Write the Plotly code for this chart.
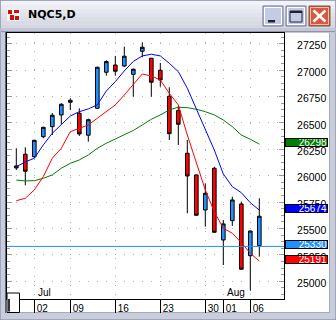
import plotly.graph_objects as go

# ---------------- data ----------------
bar_idx = list(range(28))
opens  = [26073, 26203, 26180, 26369, 26464, 26575, 26695, 26591, 26383, 26638,
          26979, 27048, 27039, 26960, 27178, 27112, 26998, 26752, 26616, 26212,
          26007, 25675, 26070, 25391, 25574, 25732, 25242, 25337]
highs  = [26259, 26269, 26340, 26462, 26594, 26686, 26733, 26638, 26540, 27030,
          27093, 27134, 27222, 27015, 27263, 27115, 27067, 26837, 26660, 26338,
          26010, 25928, 26085, 25580, 25801, 25754, 25480, 25786]
lows   = [26054, 25909, 26165, 26354, 26385, 26490, 26622, 26376, 26322, 26635,
          26947, 26947, 27029, 26748, 27121, 26748, 26843, 26338, 26291, 25644,
          25620, 25517, 25460, 25154, 25524, 25110, 24911, 25233]
closes = [26092, 26042, 26335, 26458, 26572, 26676, 26714, 26395, 26530, 27027,
          27080, 26989, 27131, 27008, 27216, 26885, 26906, 26398, 26487, 25997,
          25625, 25833, 25464, 25543, 25770, 25114, 25476, 25616]

ma_blue  = [26085, 26130, 26165, 26291, 26402, 26487, 26565, 26606, 26632, 26670,
            26802, 26890, 26992, 27082, 27134, 27150, 27134, 27064, 26985, 26828,
            26638, 26433, 26243, 26016, 25896, 25839, 25744, 25674]
ma_red   = [25763, 25786, 25865, 25991, 26165, 26259, 26417, 26449, 26480, 26544,
            26606, 26670, 26764, 26868, 26963, 26944, 26906, 26780, 26670, 26385,
            26133, 25865, 25659, 25502, 25455, 25366, 25265, 25191]
ma_green = [25959, 25950, 25953, 25975, 26007, 26070, 26117, 26149, 26196, 26259,
            26307, 26345, 26385, 26428, 26480, 26534, 26575, 26622, 26648, 26644,
            26629, 26606, 26575, 26527, 26464, 26385, 26345, 26298]

hline_price = 25330
date_ticks = [2, 6, 11, 16, 21, 23, 26]
date_labels = ["02", "09", "16", "23", "30", "01", "06"]
month_ticks = [2, 23]
month_labels = ["Jul", "Aug"]
price_ticks = [25000, 25250, 25500, 25750, 26000, 26250, 26500, 26750, 27000, 27250]
value_labels = [(26298, "#008000"), (25674, "#0000FF"), (25330, "#1E90FF"), (25191, "#FF0000")]

# ---------------- geometry helpers ----------------
W, H = 336, 320
PL, PR, PT, PB = 7, 284, 33, 299
def X(px):
    return (px - PL) / (PR - PL)
def Y(py):
    return 1 - (py - PT) / (PB - PT)

FONT = "Liberation Sans, Arial, sans-serif"

fig = go.Figure()
fig.add_trace(go.Candlestick(
    x=bar_idx, open=opens, high=highs, low=lows, close=closes,
    increasing=dict(line=dict(color="black", width=1), fillcolor="#1E90FF"),
    decreasing=dict(line=dict(color="black", width=1), fillcolor="#FF0000"),
    whiskerwidth=0, showlegend=False, hoverinfo="skip"))
for vals, col in [(ma_green, "#008000"), (ma_red, "#FF0000"), (ma_blue, "#0000FF")]:
    fig.add_trace(go.Scatter(x=bar_idx, y=vals, mode="lines",
                             line=dict(color=col, width=1), showlegend=False,
                             hoverinfo="skip"))

shapes = []
def rect(x0, y0, x1, y1, fill, line=None, lw=1, layer="below"):
    shapes.append(dict(type="rect", xref="paper", yref="paper",
                       x0=X(x0), x1=X(x1), y0=Y(y0), y1=Y(y1),
                       fillcolor=fill, line=dict(color=line or fill, width=lw if line else 0),
                       layer=layer))
def seg(x0, y0, x1, y1, color, lw=1, layer="below"):
    shapes.append(dict(type="line", xref="paper", yref="paper",
                       x0=X(x0), x1=X(x1), y0=Y(y0), y1=Y(y1),
                       line=dict(color=color, width=lw), layer=layer))

# window frame
rect(0, 0, 336, 320, "#C9CCDA", "#7C8099")
# title bar gradient
bands = ["#F2F3F8", "#ECEDF3", "#E6E8EF", "#E1E3EB", "#DCDEE7", "#D8DAE4", "#D4D7E1"]
for i, c in enumerate(bands):
    rect(1, 1 + i * 4, 335, 5 + i * 4, c)
rect(0.5, 28, 335.5, 33, "#C3C6D5")
seg(1, 31.5, 335, 31.5, "#8E92AA")
# content white
rect(7, 33, 329, 312.5, "#FFFFFF")
seg(329.5, 33, 329.5, 313, "#A7AABB")
seg(7, 312.5, 330, 312.5, "#A7AABB")
seg(5.5, 32, 5.5, 313, "#5E6278")
# icon
rect(7, 9, 20, 21, "#F4F4F4")
rect(8, 10, 12, 14, "#D01010")
rect(14, 10, 19, 13, "#D01010")
rect(10, 15, 14, 20, "#D01010")
rect(15, 16, 19, 20, "#D01010")
# buttons
for bx in (263, 286):
    rect(bx, 6, bx + 20, 26, "#C4CBE4", "#6F7797")
    rect(bx + 1.5, 7.5, bx + 18.5, 24.5, "rgba(0,0,0,0)", "#FFFFFF")
rect(309, 6, 330, 26, "#D9573C", "#8A4A40")
rect(310.5, 7.5, 328.5, 24.5, "rgba(0,0,0,0)", "#F2C2B5")
rect(268, 20, 275, 22.5, "#20242F")
rect(290, 11, 302, 22, "rgba(0,0,0,0)", "#20242F")
rect(290, 11, 302, 13, "#20242F")
seg(313.5, 10.5, 325.5, 21.5, "#FFFFFF", 2.5)
seg(325.5, 10.5, 313.5, 21.5, "#FFFFFF", 2.5)

# horizontal level line
shapes.append(dict(type="line", xref="paper", yref="y", x0=0, x1=1,
                   y0=hline_price, y1=hline_price,
                   line=dict(color="#1E90FF", width=1), layer="above"))
# bottom-left small box
rect(7, 293, 19.5, 312.5, "#FFFFFF", "#000000", 1, layer="above")
rect(8.2, 299, 9.8, 311.5, "#000000", None, layer="above")

annotations = []
annotations.append(dict(xref="paper", yref="paper", x=X(26), y=Y(15), xanchor="left",
                        yanchor="middle", text="<b>NQC5,D</b>", showarrow=False,
                        font=dict(family="DejaVu Sans, Verdana, sans-serif", size=11,
                                  color="#000000")))
for mk, ml in zip(month_ticks, month_labels):
    annotations.append(dict(xref="x", yref="paper", x=mk, y=0, xanchor="left",
                            yanchor="bottom", xshift=2, yshift=-1, text=ml,
                            showarrow=False, font=dict(family=FONT, size=10,
                                                        color="#000000")))
for val, col in value_labels:
    annotations.append(dict(xref="paper", yref="y", x=X(285), y=val, xanchor="left",
                            yanchor="middle", yshift=2, text=f"{val}", showarrow=False,
                            bgcolor=col, bordercolor="#000000", borderwidth=1,
                            borderpad=0, width=41, height=7, align="right",
                            font=dict(family=FONT, size=10, color="#FFFFFF")))

grid = dict(showgrid=True, gridcolor="#B4B4B4", gridwidth=1, griddash="1px,8px")

fig.update_layout(
    width=W, height=H,
    margin=dict(l=PL, r=W - PR, t=PT, b=H - PB, pad=0),
    paper_bgcolor="#C9CCDA", plot_bgcolor="#FFFFFF",
    shapes=shapes, annotations=annotations, boxgap=0.42,
    xaxis=dict(range=[-1.033, 29.744], tickmode="array", tickvals=date_ticks,
               ticktext=date_labels, ticks="outside", ticklen=13, tickcolor="#000000",
               tickwidth=1, showline=True, linecolor="#000000", linewidth=1,
               mirror=True, zeroline=False, rangeslider=dict(visible=False),
               ticklabelshift=8, ticklabelstandoff=-13,
               tickfont=dict(family=FONT, size=10, color="#000000"), **grid),
    yaxis=dict(range=[24832, 27351], side="right", tickmode="linear", tick0=25000,
               dtick=250, ticks="inside", ticklen=5, tickcolor="#9A9A9A",
               minor=dict(dtick=62.5, ticks="inside", ticklen=3, tickcolor="#9A9A9A",
                          showgrid=False),
               showline=True, linecolor="#000000", linewidth=1, mirror="allticks",
               zeroline=False, tickformat="d", ticklabelstandoff=10, ticklabelshift=2,
               tickfont=dict(family=FONT, size=10.5, color="#000000"), **grid),
)

fig.write_html("out.html")
